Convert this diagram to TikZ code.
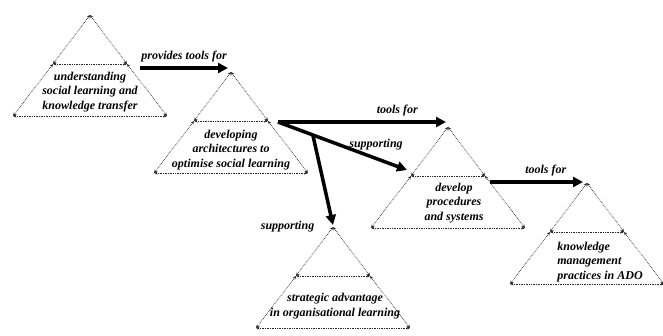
\documentclass[tikz,border=0pt]{standalone}
\usepackage{fontspec}
\setmainfont{Liberation Serif}
\usetikzlibrary{arrows.meta,calc}
\begin{document}
\begin{tikzpicture}[x=1pt,y=-1pt,
    lado/.style={densely dotted, line width=0.7pt, black!85,
      {Stealth[length=3.5pt,width=3pt]}-{Stealth[length=3.5pt,width=3pt]}},
    flecha/.style={line width=3.5pt, -{Triangle[length=10pt,width=10pt]}},
    etiq/.style={font=\fontsize{12}{14.5}\selectfont\bfseries\itshape, align=center, inner sep=1pt}]
  \useasboundingbox (0,0) rectangle (663,335);
  % piramides
  \foreach \nm/\x/\y in {t1/90/15, t2/231/72, t3/448/127, t4/587/183, t5/333/227} {
    \coordinate (\nm-apex) at (\x,\y);
    \coordinate (\nm-il) at (\x-37,\y+49);
    \coordinate (\nm-ir) at (\x+37,\y+49);
    \coordinate (\nm-bl) at (\x-77,\y+101);
    \coordinate (\nm-br) at (\x+77,\y+101);
    \draw[lado] (\nm-apex) -- (\nm-il);
    \draw[lado] (\nm-il) -- (\nm-bl);
    \draw[lado] (\nm-apex) -- (\nm-ir);
    \draw[lado] (\nm-ir) -- (\nm-br);
    \draw[lado] (\nm-il) -- (\nm-ir);
    \draw[lado] (\nm-bl) -- (\nm-br);
  }
  \node[etiq] (t1-txt) at ($(t1-apex)+(0,77)$) {understanding\\social learning and\\knowledge transfer};
  \node[etiq] (t2-txt) at ($(t2-apex)+(0,78)$) {developing\\architectures to\\optimise social learning};
  \node[etiq] (t3-txt) at ($(t3-apex)+(6,76)$) {develop\\procedures\\and systems};
  \node[etiq, align=left] (t4-txt) at ($(t4-apex)+(13,79)$) {knowledge\\management\\practices in ADO};
  \node[etiq] (t5-txt) at ($(t5-apex)+(2,79)$) {strategic advantage\\in organisational learning};
  % flechas
  \coordinate (t1-out) at (140,68);
  \coordinate (t2-out) at (278,122);
  \coordinate (t3-out) at (490,182);
  \coordinate (rama) at ($(t2-out)!0.27!($(t3-il)+(-4,-6)$)$);
  \draw[flecha] (t1-out) -- ($(t2-apex)+(-3,-4)$)
    node[etiq, midway, above=3pt] (l1) {provides tools for};
  \draw[flecha] (t2-out) -- ($(t3-apex)+(-2,-5)$)
    node[etiq, pos=0.71, above=3pt] (l2) {tools for};
  \draw[flecha] (t2-out) -- ($(t3-il)+(-4,-6)$)
    node[etiq, pos=0.76, above=6pt] (l3) {supporting};
  \draw[flecha] (rama) -- ($(t5-apex)+(0,-2)$)
    node[etiq, at end, anchor=east, xshift=-16pt, yshift=-2pt] (l4) {supporting};
  \draw[flecha] (t3-out) -- ($(t4-apex)+(-4,-1)$)
    node[etiq, pos=0.6, above=3pt] (l5) {tools for};
\end{tikzpicture}
\end{document}
